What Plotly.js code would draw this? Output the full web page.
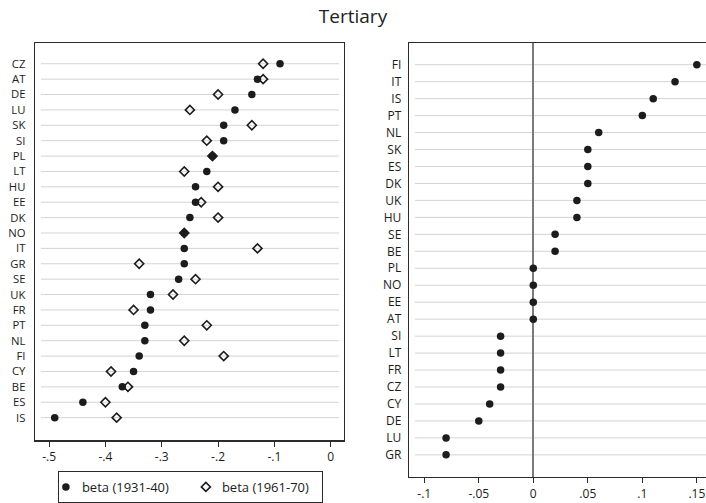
<!DOCTYPE html>
<html>
<head>
<meta charset="utf-8">
<script src="https://cdn.plot.ly/plotly-3.0.1.min.js"></script>
<style>html,body{margin:0;padding:0;background:#fff}</style>
</head>
<body>
<div id="chart" style="width:706px;height:503px"></div>
<script>
// Left panel: country betas for two birth cohorts (top to bottom)
const leftCountries = ['CZ','AT','DE','LU','SK','SI','PL','LT','HU','EE','DK','NO','IT','GR','SE','UK','FR','PT','NL','FI','CY','BE','ES','IS'];
const beta1931 = [-0.09,-0.13,-0.14,-0.17,-0.19,-0.19,-0.21,-0.22,-0.24,-0.24,-0.25,-0.26,-0.26,-0.26,-0.27,-0.32,-0.32,-0.33,-0.33,-0.34,-0.35,-0.37,-0.44,-0.49];
const beta1961 = [-0.12,-0.12,-0.20,-0.25,-0.14,-0.22,-0.21,-0.26,-0.20,-0.23,-0.20,-0.26,-0.13,-0.34,-0.24,-0.28,-0.35,-0.22,-0.26,-0.19,-0.39,-0.36,-0.40,-0.38];

// Right panel: change between cohorts (top to bottom)
const rightCountries = ['FI','IT','IS','PT','NL','SK','ES','DK','UK','HU','SE','BE','PL','NO','EE','AT','SI','LT','FR','CZ','CY','DE','LU','GR'];
const rightValues = [0.15,0.13,0.11,0.10,0.06,0.05,0.05,0.05,0.04,0.04,0.02,0.02,0,0,0,0,-0.03,-0.03,-0.03,-0.03,-0.04,-0.05,-0.08,-0.08];

const leftTickVals = [-0.5,-0.4,-0.3,-0.2,-0.1,0];
const leftTickText = ['-.5','-.4','-.3','-.2','-.1','0'];
const rightTickVals = [-0.1,-0.05,0,0.05,0.1,0.15];
const rightTickText = ['-.1','-.05','0','.05','.1','.15'];

const FONT = '"Open Sans", "Noto Sans", sans-serif';
const INK = '#1c1c1c';
const FRAME = '#2b2b2b';
const GRID = '#d3d3d3';

const traces = [
  {
    type: 'scatter', mode: 'markers', name: 'beta (1931-40)',
    x: beta1931, y: leftCountries, xaxis: 'x', yaxis: 'y',
    marker: {symbol: 'circle', size: 7.5, color: INK, line: {width: 0}},
    hoverinfo: 'skip'
  },
  {
    type: 'scatter', mode: 'markers', name: 'beta (1961-70)',
    x: beta1961, y: leftCountries, xaxis: 'x', yaxis: 'y',
    marker: {symbol: 'diamond-open', size: 7, color: INK, line: {width: 1.6, color: INK}},
    hoverinfo: 'skip'
  },
  {
    type: 'scatter', mode: 'markers', showlegend: false,
    x: rightValues, y: rightCountries, xaxis: 'x2', yaxis: 'y2',
    marker: {symbol: 'circle', size: 7.5, color: INK, line: {width: 0}},
    hoverinfo: 'skip'
  }
];

// Horizontal guide lines, inset a little from each panel frame
const shapes = [];
leftCountries.forEach(c => shapes.push({
  type: 'line', layer: 'below', xref: 'x domain', yref: 'y',
  x0: 0.019, x1: 0.984, y0: c, y1: c, line: {color: GRID, width: 1}
}));
rightCountries.forEach(c => shapes.push({
  type: 'line', layer: 'below', xref: 'x2 domain', yref: 'y2',
  x0: 0.02, x1: 1, y0: c, y1: c, line: {color: GRID, width: 1}
}));

const tickFont = {family: FONT, size: 12, color: INK};
// Rows in the left panel sit closer together, so its labels are a touch smaller
const leftRowFont = {family: FONT, size: 11.3, color: INK};

const layout = {
  width: 706, height: 503,
  margin: {l: 0, r: 0, t: 0, b: 0},
  paper_bgcolor: '#fff', plot_bgcolor: '#fff',
  font: {family: FONT, color: INK},
  title: {text: 'Tertiary', x: 0.5, xanchor: 'center', y: 0.968, yanchor: 'middle',
          font: {family: FONT, size: 19, color: '#222'}},
  showlegend: true,
  legend: {
    orientation: 'h', x: 0.082, xanchor: 'left', y: 0.06, yanchor: 'top',
    bordercolor: FRAME, borderwidth: 1, bgcolor: '#fff',
    font: {family: FONT, size: 13, color: INK},
    itemsizing: 'trace'
  },
  xaxis: {
    domain: [35/706, 344/706], range: [-0.525, 0.0236],
    tickvals: leftTickVals, ticktext: leftTickText, tickfont: tickFont,
    ticks: 'outside', ticklen: 5, tickwidth: 1, tickcolor: FRAME,
    showgrid: false, zeroline: false,
    showline: true, linecolor: FRAME, linewidth: 1.3, mirror: true,
    fixedrange: true
  },
  yaxis: {
    domain: [1 - 442/503, 1 - 43/503], anchor: 'x',
    type: 'category', categoryorder: 'array', categoryarray: leftCountries.slice().reverse(),
    range: [-1.47, 24.36],
    tickfont: leftRowFont, ticks: '', ticklabelstandoff: 6,
    showgrid: false, zeroline: false,
    showline: true, linecolor: FRAME, linewidth: 1.3, mirror: true,
    fixedrange: true
  },
  xaxis2: {
    domain: [409/706, 1], range: [-0.114, 0.1584], anchor: 'y2',
    tickvals: rightTickVals, ticktext: rightTickText, tickfont: tickFont,
    ticks: 'outside', ticklen: 5, tickwidth: 1, tickcolor: FRAME,
    showgrid: false, zeroline: true, zerolinecolor: '#7a7a7a', zerolinewidth: 1.6,
    showline: true, linecolor: FRAME, linewidth: 1.3, mirror: true,
    fixedrange: true
  },
  yaxis2: {
    domain: [1 - 479/503, 1 - 43/503], anchor: 'x2',
    type: 'category', categoryorder: 'array', categoryarray: rightCountries.slice().reverse(),
    range: [-1.31, 24.29],
    tickfont: tickFont, ticks: '', ticklabelstandoff: 4,
    showgrid: false, zeroline: false,
    showline: true, linecolor: FRAME, linewidth: 1.3,
    fixedrange: true
  },
  shapes: shapes
};

// Tighter legend entries: symbol close to the box edge, label just after it
const LEG_SYMBOL_X = 8;
const LEG_TEXT_X = 24;
const LEG_ITEM_STEP = 140;
const LEG_WIDTH = 264;

Plotly.newPlot('chart', traces, layout, {displayModeBar: false, staticPlot: true}).then(gd => {
  const items = gd.querySelectorAll('.legend .traces');
  items.forEach((g, i) => {
    const m = /translate\(([-\d.]+)[ ,]*([-\d.]+)?\)/.exec(g.getAttribute('transform') || '');
    const ty = m && m[2] ? parseFloat(m[2]) : 0;
    g.setAttribute('transform', `translate(${i * LEG_ITEM_STEP},${ty})`);
    const txt = g.querySelector('.legendtext');
    if (txt) txt.setAttribute('x', LEG_TEXT_X);
    g.querySelectorAll('.legendpoints path').forEach(p => p.setAttribute('transform', `translate(${LEG_SYMBOL_X},0)`));
  });
  const bg = gd.querySelector('.legend .bg');
  if (bg) bg.setAttribute('width', LEG_WIDTH);
  gd.querySelectorAll('clipPath').forEach(cp => {
    if (/legend/.test(cp.id)) {
      const r = cp.querySelector('rect');
      if (r) r.setAttribute('width', LEG_WIDTH);
    }
  });
});
</script>
</body>
</html>
